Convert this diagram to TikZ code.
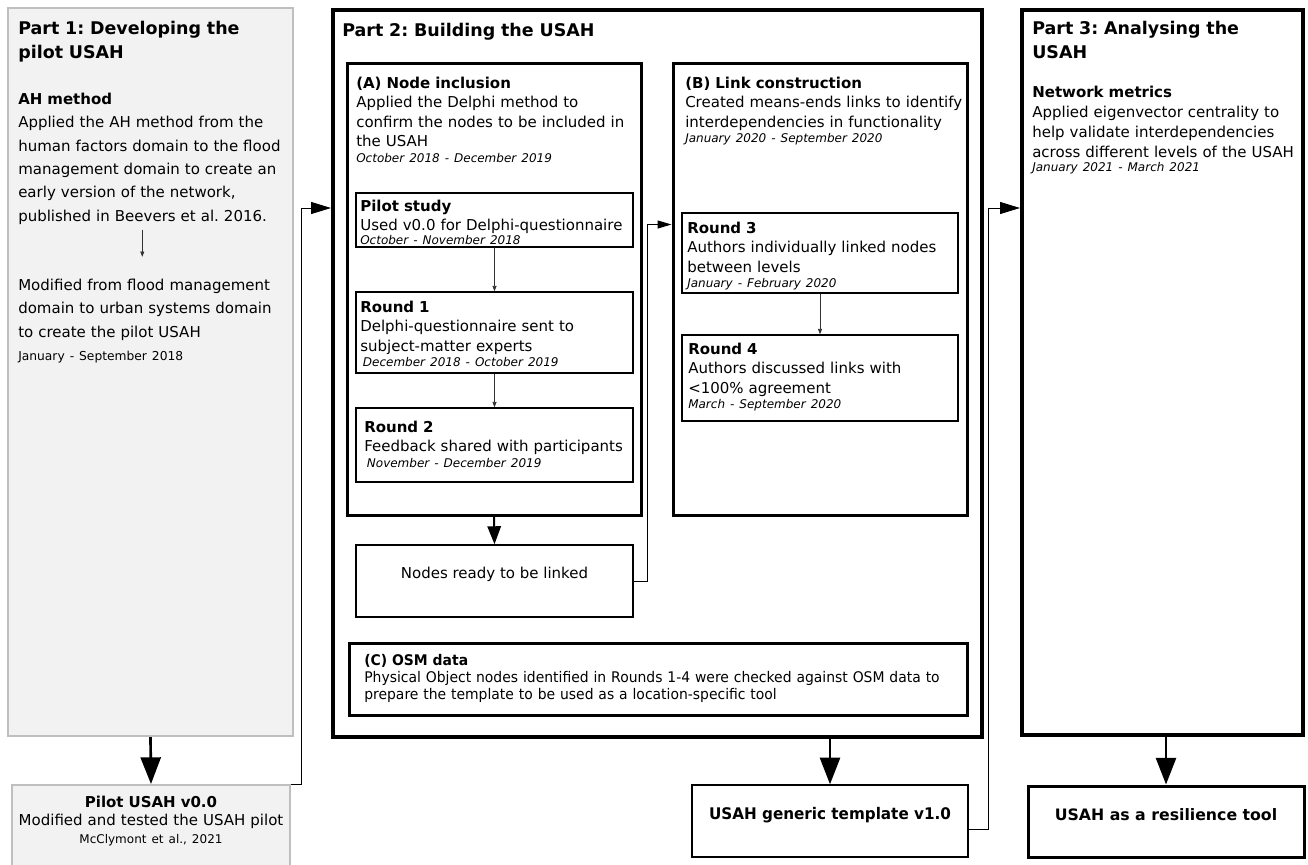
\documentclass[tikz,border=0pt]{standalone}
\usepackage{fontspec}
\setmainfont{DejaVu Sans}
\newfontfamily\condfont[FakeStretch=0.95]{DejaVu Sans}
\usepackage{tikz}
\usetikzlibrary{arrows.meta,fit,calc}
\frenchspacing

\newcommand{\parttitle}{\fontsize{13.1}{18}\selectfont\bfseries}
\newcommand{\bodyone}{\fontsize{11.25}{17.5}\selectfont}
\newcommand{\bodytwo}{\fontsize{11.25}{14.6}\selectfont}
\newcommand{\smalldate}{\fontsize{9}{11}\selectfont\itshape}

\begin{document}
\begin{tikzpicture}[x=0.75pt,y=-0.75pt,
  grey box/.style={draw=black!25,fill=black!5,line width=1.5pt,inner sep=0pt},
  part box/.style={draw,line width=3pt,inner sep=0pt},
  stage box/.style={draw,line width=2.25pt,inner sep=0pt},
  round box/.style={draw,line width=1.1pt,inner sep=0pt},
  txt/.style={anchor=base west,inner sep=0pt,align=left,text width=#1},
  mid txt/.style={anchor=base,inner sep=0pt,align=center},
  big arrow/.style={line width=2pt,-{Triangle[length=20pt,width=15pt]}},
  mid arrow/.style={line width=1.5pt,-{Triangle[length=13.5pt,width=10pt]}},
  link arrow/.style={line width=0.75pt,-{Triangle[length=15pt,width=9pt]}},
  short link/.style={line width=0.75pt,-{Triangle[length=10.5pt,width=6pt]}},
  small arrow/.style={line width=0.6pt,black!80,-{Triangle[length=4pt,width=3pt]}}]
\useasboundingbox (0,0) rectangle (1308,864);

% part 1
\node[grey box,fit={(8,8) (293,736)}] (p1) {};
\node[txt=200pt,font=\parttitle] (p1title) at (18,34.5) {Part 1: Developing the\\ pilot USAH};
\node[txt=200pt,font=\bodyone] (p1ah) at (18,104.5) {\textbf{AH method}\\ Applied the AH method from the\\ human factors domain to the flood\\ management domain to create an\\ early version of the network,\\ published in Beevers et al. 2016.};
\node[txt=200pt,font=\bodyone] (p1mod) at (18,290.5) {Modified from flood management\\ domain to urban systems domain\\ to create the pilot USAH\\ {\fontsize{9.2}{11}\selectfont January - September 2018}};
\draw[small arrow] ([xshift=-7pt,yshift=-3.75pt]p1ah.south) -- ([xshift=-7pt,yshift=16.5pt]p1mod.north);

\node[grey box,fit={(12,785) (290,875)}] (pilot) {};
\node[mid txt,text width=220pt,font=\fontsize{11.25}{13.5}\selectfont] (pilottxt) at (151,807.5) {\textbf{Pilot USAH v0.0}\\ Modified and tested the USAH pilot\\ {\fontsize{9}{11}\selectfont McClymont et al., 2021}};
\draw[big arrow] (p1.south) -- (pilot.north);

% part 2
\node[part box,fit={(333,10) (982,737)}] (p2) {};
\node[txt=300pt,font=\parttitle] (p2title) at (342,36.5) {Part 2: Building the USAH};
\draw[link arrow] (pilot.north east) -- ++(10,0) |- ($(p2.north west)+(0,200)$);

\node[stage box,fit={(347,63) (641,515)}] (stagea) {};
\node[txt=280pt,font=\bodytwo] (stageatxt) at (356,88.5) {\textbf{(A) Node inclusion}\\ Applied the Delphi method to\\ confirm the nodes to be included in\\ the USAH\\[-3pt] {\smalldate October 2018 - December 2019}};

\node[round box,fit={(356,193) (633,247)}] (pstudy) {};
\node[txt=270pt,font=\bodytwo] (pstudytxt) at (360,211.5) {\textbf{Pilot study}\\ Used v0.0 for Delphi-questionnaire\\[-4.5pt] {\smalldate October - November 2018}};

\node[round box,fit={(356,292) (633,373)}] (round1) {};
\node[txt=270pt,font=\bodytwo] (round1txt) at (360,312.5) {\textbf{Round 1}\\ Delphi-questionnaire sent to\\ subject-matter experts\\[-3pt] \hspace*{2pt}{\smalldate December 2018 - October 2019}};

\node[round box,fit={(356,408) (633,482)}] (round2) {};
\node[txt=270pt,font=\bodytwo] (round2txt) at (364,432.5) {\textbf{Round 2}\\ Feedback shared with participants\\[-3pt] \hspace*{2pt}{\smalldate November - December 2019}};

\draw[small arrow] (pstudy.south) -- (round1.north);
\draw[small arrow] (round1.south) -- (round2.north);

\node[round box,fit={(356,545) (633,617)}] (nodes) {};
\node[mid txt,font=\bodytwo] (nodestxt) at (494.5,578.5) {Nodes ready to be linked};
\draw[mid arrow] (stagea.south) -- (nodes.north);

\node[stage box,fit={(673,63) (967,515)}] (stageb) {};
\node[txt=280pt,font=\bodytwo] (stagebtxt) at (685,88.5) {\textbf{(B) Link construction}\\ Created means-ends links to identify\\ interdependencies in functionality\\[-3.5pt] {\smalldate January 2020 - September 2020}};
\draw[short link] (nodes.east) -- ++(14,0) |- ($(stageb.north west)+(0,163)$);

\node[round box,fit={(682,213) (958,293)}] (round3) {};
\node[txt=270pt,font=\bodytwo] (round3txt) at (687,233.5) {\textbf{Round 3}\\ Authors individually linked nodes\\ between levels\\[-3.5pt] {\smalldate January - February 2020}};

\node[round box,fit={(682,335) (958,421)}] (round4) {};
\node[txt=270pt,font=\bodytwo] (round4txt) at (688,354.5) {\textbf{Round 4}\\ Authors discussed links with\\ <100\% agreement\\[-3.5pt] {\smalldate March - September 2020}};
\draw[small arrow] (round3.south) -- (round4.north);

\node[stage box,fit={(349,643) (967,715)}] (stagec) {};
\node[txt=450pt,font=\condfont\fontsize{11}{12.75}\selectfont] (stagectxt) at (364,665) {\textbf{(C) OSM data}\\ Physical Object nodes identified in Rounds 1-4 were checked against OSM data to\\ prepare the template to be used as a location-specific tool};

\node[round box,fit={(692,785) (968,857)}] (tmpl) {};
\node[mid txt,font=\condfont\bfseries\fontsize{12}{14}\selectfont] (tmpltxt) at (830,819.8) {USAH generic template v1.0};
\draw[big arrow] (p2.south -| tmpl.north) -- (tmpl.north);

% part 3
\node[part box,fit={(1022,10) (1303,735)}] (p3) {};
\node[txt=200pt,font=\parttitle] (p3title) at (1032,34.5) {Part 3: Analysing the\\ USAH};
\node[txt=200pt,font=\fontsize{11.25}{15}\selectfont] (p3txt) at (1032,97.5) {\textbf{Network metrics}\\ Applied eigenvector centrality to\\ help validate interdependencies\\ across different levels of the USAH\\[-4.5pt] {\smalldate January 2021 - March 2021}};
\draw[link arrow] ([yshift=-6pt]tmpl.east) -- ++(20,0) |- ($(p3.north west)+(0,200)$);

\node[stage box,fit={(1028,786) (1304,857)}] (res) {};
\node[mid txt,font=\bfseries\fontsize{11.8}{14}\selectfont] (restxt) at (1166,820.7) {USAH as a resilience tool};
\draw[big arrow] (p3.south -| res.north) -- (res.north);
\end{tikzpicture}
\end{document}
